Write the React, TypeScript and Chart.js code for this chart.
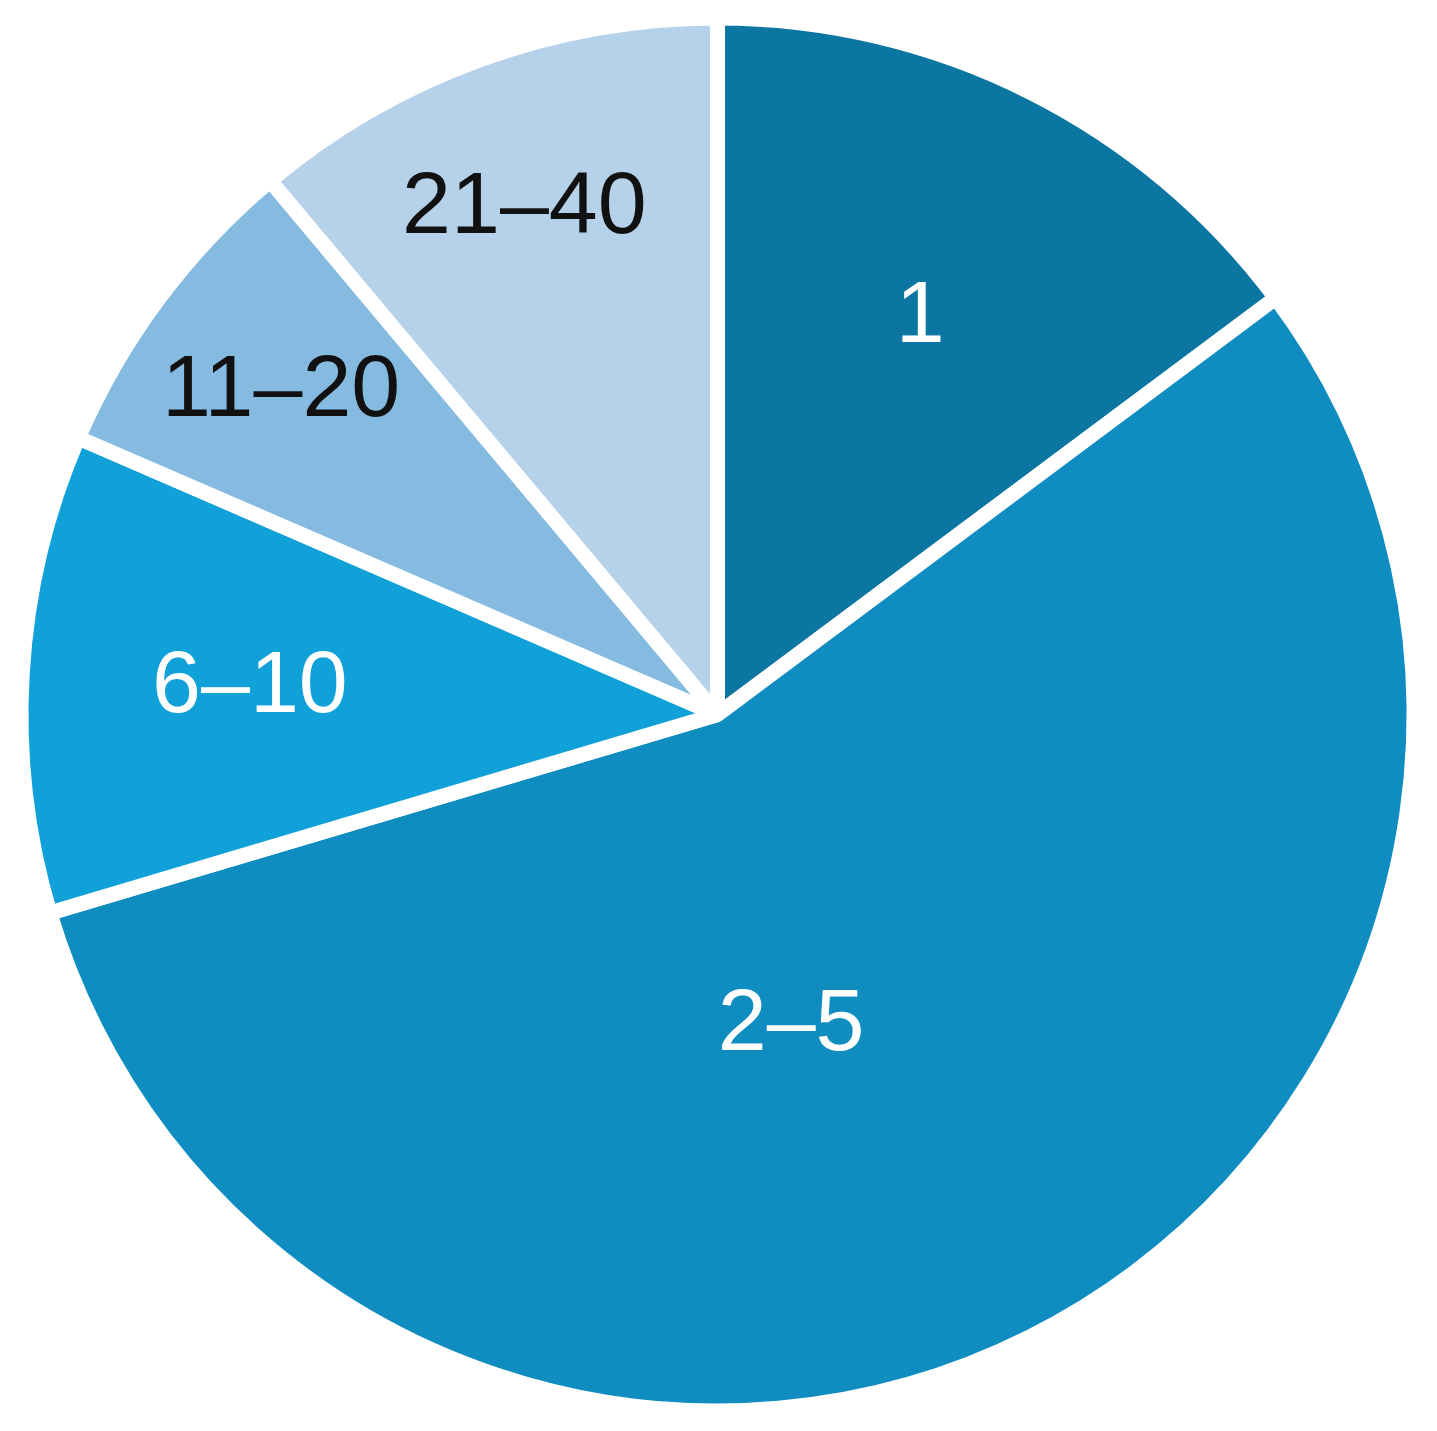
import React, { useEffect, useRef } from "react";
import { Chart, registerables } from "chart.js";

Chart.register(...registerables);

const categories = ["1", "2–5", "6–10", "11–20", "21–40"];
const shares = [14.8, 55.6, 11.1, 7.4, 11.1];
const sliceColors = ["#0b76a1", "#0f8cc0", "#10a1d9", "#86bbe1", "#b6d2ea"];
const labelColors = ["#ffffff", "#ffffff", "#ffffff", "#111111", "#111111"];
// label placement: fraction of radius, fraction of slice angle
const labelRadius = [0.65, 0.46, 0.68, 0.79, 0.79];
const labelAngleFrac = [0.505, 0.566, 0.505, 0.5, 0.48];

const BW = 15;

const labelPlugin = {
  id: "sliceLabels",
  afterDatasetsDraw(chart: any) {
    const ctx = chart.ctx;
    const meta = chart.getDatasetMeta(0);
    ctx.save();
    ctx.font = '88px "Liberation Sans", Arial, sans-serif';
    ctx.textAlign = "center";
    ctx.textBaseline = "middle";
    meta.data.forEach((arc: any, i: number) => {
      const { x, y, startAngle, endAngle, outerRadius } = arc.getProps(
        ["x", "y", "startAngle", "endAngle", "outerRadius"],
        true
      );
      const a = startAngle + (endAngle - startAngle) * labelAngleFrac[i];
      const r = (outerRadius - BW / 2) * labelRadius[i];
      ctx.fillStyle = labelColors[i];
      ctx.fillText(categories[i], x + Math.cos(a) * r, y + Math.sin(a) * r + 3);
    });
    ctx.restore();
  },
};

export default function App() {
  const ref = useRef<HTMLCanvasElement | null>(null);
  useEffect(() => {
    if (!ref.current) return;
    const chart = new Chart(ref.current, {
      type: "pie",
      data: {
        labels: categories,
        datasets: [
          {
            data: shares,
            backgroundColor: sliceColors,
            borderColor: "#ffffff",
            borderWidth: BW,
          },
        ],
      },
      options: {
        animation: false,
        responsive: true,
        maintainAspectRatio: false,
        layout: { padding: { left: 10, right: 12, top: 10.5, bottom: 12.5 } },
        plugins: {
          legend: { display: false },
          tooltip: { enabled: false },
        },
      },
      plugins: [labelPlugin],
    });
    return () => chart.destroy();
  }, []);
  return (
    <div
      style={{
        position: "absolute",
        left: 0,
        top: 0,
        width: 1437,
        height: 1431,
        background: "#ffffff",
      }}
    >
      <canvas ref={ref} />
    </div>
  );
}
